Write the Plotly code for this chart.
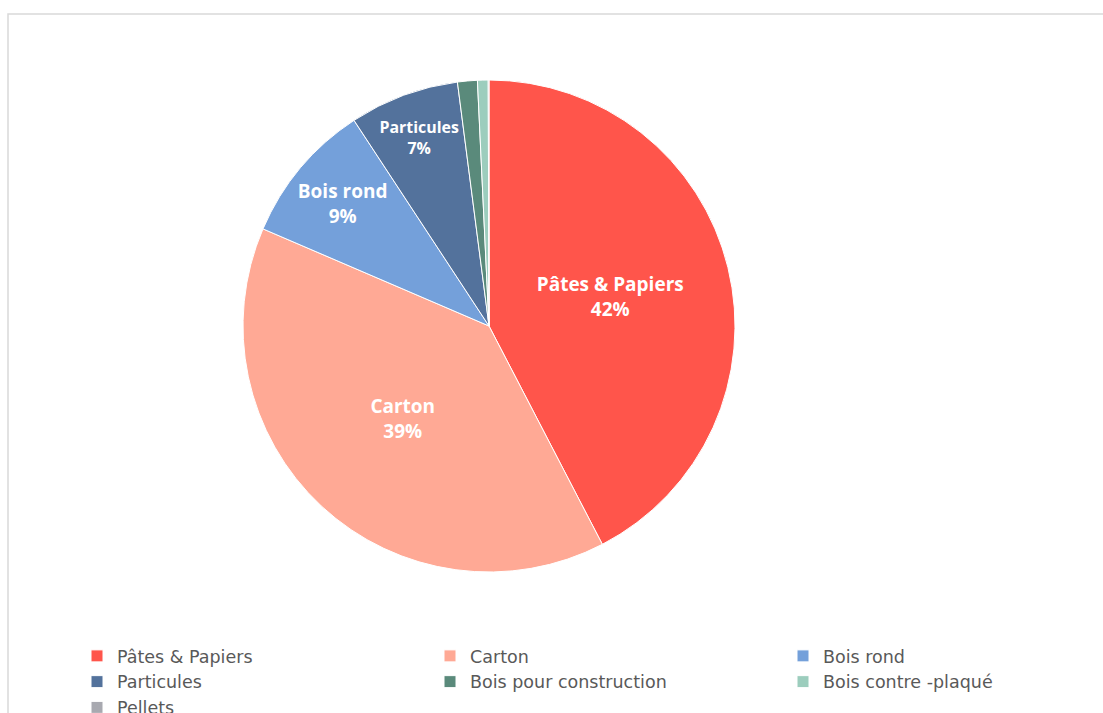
import plotly.graph_objects as go

# Wood product shares (percent)
categories = ["Pâtes & Papiers", "Carton", "Bois rond", "Particules",
              "Bois pour construction", "Bois contre -plaqué", "Pellets"]
shares = [42.4, 39.1, 9.3, 7.2, 1.3, 0.7, 0.05]
colors = ["#FF554B", "#FFA995", "#74A0DA", "#53729C", "#5A8A7B", "#9CCDBD", "#A8A9B0"]
# only the larger slices carry a label
show_label = [True, True, True, True, False, False, False]

texts = [f"{c}<br>{round(v)}%" if s else "" for c, v, s in zip(categories, shares, show_label)]

W, H = 1103, 713
cx, cy, r = 489, 326, 246

fig = go.Figure(go.Pie(
    labels=categories,
    values=shares,
    text=texts,
    textinfo="text",
    textposition="inside",
    insidetextorientation="horizontal",
    sort=False,
    direction="clockwise",
    rotation=0,
    marker=dict(colors=colors, line=dict(color="white", width=1)),
    textfont=dict(family="Open Sans", size=19, color="white", weight="bold"),
    domain=dict(x=[(cx - r) / W, (cx + r) / W], y=[1 - (cy + r) / H, 1 - (cy - r) / H]),
    hoverinfo="label+percent",
))

fig.update_layout(
    width=W, height=H,
    margin=dict(l=0, r=0, t=0, b=0, autoexpand=False),
    paper_bgcolor="white",
    plot_bgcolor="white",
    showlegend=True,
    legend=dict(
        orientation="h",
        x=77 / W, xanchor="left",
        y=1 - 638 / H, yanchor="top",
        entrywidth=308, entrywidthmode="pixels",
        font=dict(family="DejaVu Sans", size=17.5, color="#595959"),
        bgcolor="rgba(0,0,0,0)",
        tracegroupgap=0,
    ),
    shapes=[dict(
        type="rect", xref="paper", yref="paper",
        x0=8 / W, x1=1.01, y0=-0.02, y1=1 - 14 / H,
        line=dict(color="#D9D9D9", width=1.5), layer="below",
    )],
)

fig.write_html("out.html")
